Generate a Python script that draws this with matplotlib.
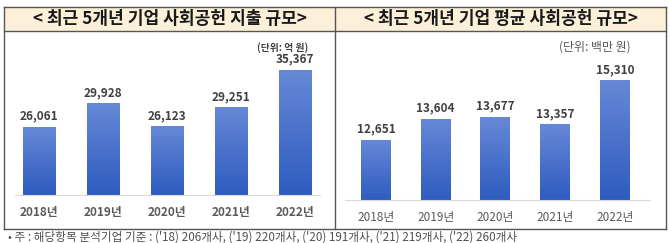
import numpy as np
import matplotlib.pyplot as plt
from matplotlib.lines import Line2D
from matplotlib.patches import Rectangle
from matplotlib.colors import LinearSegmentedColormap

plt.rcParams['font.family'] = ['Noto Sans CJK KR', 'DejaVu Sans']

years = ['2018년', '2019년', '2020년', '2021년', '2022년']
total_spend = [26061, 29928, 26123, 29251, 35367]      # 억 원
avg_spend = [12651, 13604, 13677, 13357, 15310]        # 백만 원
footnote = "• 주 : 해당항목 분석기업 기준 : ('18) 206개사, ('19) 220개사, ('20) 191개사, ('21) 219개사, ('22) 260개사"

W, H = 670, 243
fig = plt.figure(figsize=(W / 100, H / 100), dpi=100)

def fx(x):
    return x / W

def fy(y):
    return 1 - y / H

# 표 테두리
edge = '#555555'
fig.patches.append(Rectangle((fx(4), fy(31)), fx(662), (31 - 7) / H, transform=fig.transFigure,
                             facecolor='#fcf1d8', edgecolor='none', zorder=0))
for (x0, y0, x1, y1) in [(4, 7, 666, 7), (4, 229, 666, 229), (4, 7, 4, 229), (666, 7, 666, 229),
                         (335, 7, 335, 229), (4, 31, 666, 31)]:
    fig.add_artist(Line2D([fx(x0), fx(x1)], [fy(y0), fy(y1)], color=edge, lw=1.0,
                          transform=fig.transFigure))

fig.text(fx(170), fy(19), '< 최근 5개년 기업 사회공헌 지출 규모>', ha='center', va='center',
         fontsize=12.3, fontweight='bold', color='#1a1a1a')
fig.text(fx(501), fy(19), '< 최근 5개년 기업 평균 사회공헌 규모>', ha='center', va='center',
         fontsize=12.3, fontweight='bold', color='#1a1a1a')

cmap = LinearSegmentedColormap.from_list('bar', ['#2f5cc0', '#6688d6'])
grad = np.linspace(0, 1, 100).reshape(-1, 1)

def draw(ax, values, ymin, ymax, year_weight):
    x = np.arange(len(values))
    ax.set_ylim(ymin, ymax)
    for xi, v in zip(x, values):
        ax.imshow(grad, extent=(xi - 0.25, xi + 0.25, ymin, v), origin='lower', cmap=cmap,
                  aspect='auto', zorder=2)
        ax.text(xi, v + (ymax - ymin) * 0.03, f'{v:,}', ha='center', va='bottom',
                fontsize=8.5, fontweight='bold', color='#404040')
    ax.set_ylim(ymin, ymax)
    ax.set_xticks(x)
    ax.set_xticklabels(years, fontsize=8.5, fontweight=year_weight, color='#595959')
    ax.tick_params(axis='x', length=0, pad=8)
    ax.set_yticks([])
    for s in ['top', 'right', 'left']:
        ax.spines[s].set_visible(False)
    ax.spines['bottom'].set_color('#d9d9d9')

# 왼쪽: 지출 규모
ax1 = fig.add_axes([fx(15), fy(195), fx(305), (195 - 42) / H])
ax1.set_xlim(-0.375, 4.39)
draw(ax1, total_spend, 15000, 40000, 'bold')
fig.text(fx(283), fy(48), '(단위: 억 원)', ha='center', va='center', fontsize=7,
         fontweight='bold', color='#404040')

# 오른쪽: 평균 규모
ax2 = fig.add_axes([fx(345), fy(200), fx(305), (200 - 43) / H])
ax2.set_xlim(-0.52, 4.59)
draw(ax2, avg_spend, 10000, 17000, 'medium')
fig.text(fx(595), fy(47), '(단위: 백만 원)', ha='center', va='center', fontsize=8.6,
         color='#595959')

fig.text(fx(8), fy(237), footnote, ha='left', va='center', fontsize=8.4, color='#505050')

plt.savefig('out.png', dpi=100)
